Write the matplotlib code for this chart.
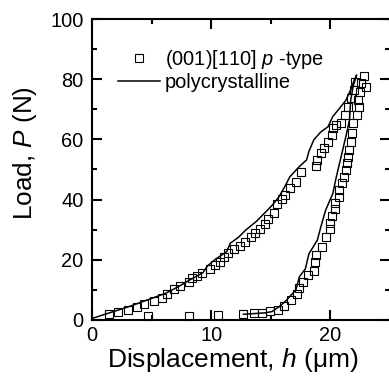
import matplotlib
matplotlib.use("Agg")
import matplotlib.pyplot as plt
from matplotlib.ticker import MultipleLocator

plt.rcParams["font.family"] = ["Liberation Sans", "DejaVu Sans"]
plt.rcParams["mathtext.fontset"] = "custom"
plt.rcParams["mathtext.rm"] = "Liberation Sans"
plt.rcParams["mathtext.it"] = "Liberation Sans:italic"

# polycrystalline: loading then unloading, one continuous trace
poly_h = [0.0, 1.8, 3.0, 4.6, 6.2, 7.3, 8.2, 9.3, 9.7, 10.4, 11.3, 11.6, 12.3,
          12.9, 13.8, 14.6, 15.2, 15.7, 16.2, 16.6, 17.4, 18.0, 18.2, 18.6,
          19.2, 19.8, 20.2, 20.8, 21.3, 21.7, 22.0, 22.2,
          21.9, 21.7, 21.6, 21.3, 20.9, 20.5, 20.2, 19.6, 19.2, 18.9, 18.2,
          17.9, 17.4, 17.1, 16.3, 15.7, 15.1, 14.6, 13.5, 12.7]
poly_P = [0.5, 2.8, 4.3, 6.6, 8.9, 11.2, 13.3, 15.7, 18.0, 20.3, 22.7, 25.5, 27.5,
          29.9, 32.8, 36.0, 38.5, 41.0, 44.5, 47.6, 51.0, 53.2, 56.0, 59.8,
          62.5, 64.2, 67.6, 70.5, 73.0, 76.5, 79.7, 81.4,
          77.5, 73.0, 66.4, 61.0, 54.3, 47.6, 42.0, 36.5, 31.0, 26.5, 22.0,
          17.0, 14.4, 10.0, 6.5, 4.4, 2.8, 2.4, 2.1, 1.9]

# (001)[110] p-type single crystal
ptype_h = [1.4, 2.2, 3.0, 3.8, 4.4, 5.2, 5.9, 6.3, 6.9, 7.4, 8.1, 8.4, 8.8, 9.2,
           9.9, 10.3, 10.7, 11.1, 11.4, 11.9, 12.4, 12.8, 13.3, 13.7, 14.1,
           14.5, 14.8, 15.3, 15.5, 15.9, 16.2, 16.6, 17.1, 17.5, 18.8, 18.9,
           19.2, 19.5, 19.8, 20.1, 20.2, 20.5, 20.9, 21.2, 21.5, 21.7, 22.0,
           22.1, 22.8, 22.6, 23.0, 22.5, 22.3, 22.4, 22.2,
           21.9, 21.8, 21.7, 21.6, 21.5, 21.4, 21.3, 21.1, 21.0, 20.75, 20.7,
           20.4, 20.4, 20.1, 20.0, 20.0, 19.6, 19.3, 18.8, 18.7, 18.6, 18.1,
           17.7, 17.4, 17.2, 16.7, 16.1, 15.6, 14.9, 14.3, 13.6, 12.7,
           4.7, 8.1, 10.6]
ptype_P = [2.0, 2.6, 3.4, 4.3, 5.3, 6.2, 7.4, 8.8, 10.2, 11.3, 12.7, 13.8, 14.6,
           15.5, 16.8, 18.3, 19.4, 20.8, 22.2, 23.5, 24.6, 26.0, 27.5, 28.8,
           30.1, 31.9, 33.4, 35.7, 38.5, 40.1, 41.5, 43.8, 46.0, 49.3, 51.0,
           53.2, 55.4, 57.0, 59.2, 61.5, 63.7, 64.8, 65.3, 68.1, 70.9, 73.6,
           76.4, 79.2, 81.1, 78.6, 77.3, 75.9, 73.0, 70.9, 68.1,
           65.3, 62.0, 59.2, 56.5, 54.3, 52.0, 49.8, 47.6, 45.4, 43.2, 41.0,
           39.0, 36.8, 34.6, 32.1, 30.1, 27.5, 24.4, 21.6, 19.4, 16.4, 15.0,
           12.7, 10.5, 8.6, 6.6, 4.7, 3.3, 3.0, 2.4, 2.2, 2.0,
           1.3, 1.3, 1.7]

fig = plt.figure(figsize=(3.89, 3.84), dpi=100)
ax = fig.add_axes([0.2365, 0.1667, 0.7661, 0.7838])

ax.plot(ptype_h, ptype_P, linestyle="none", marker="s", markersize=5.2,
        markerfacecolor="none", markeredgecolor="black", markeredgewidth=0.8,
        label=r"(001)[110] $\it{p}$ -type", clip_on=False, zorder=3)
ax.plot(poly_h, poly_P, color="black", linewidth=1.1,
        label="polycrystalline", zorder=2)

ax.set_xlim(0, 25)
ax.set_ylim(0, 100)
ax.xaxis.set_major_locator(MultipleLocator(10))
ax.xaxis.set_minor_locator(MultipleLocator(5))
ax.yaxis.set_major_locator(MultipleLocator(20))
ax.yaxis.set_minor_locator(MultipleLocator(10))
ax.tick_params(which="both", direction="in", top=True, right=True,
               width=1.5, labelsize=14.4)
ax.tick_params(which="major", length=7.5)
ax.tick_params(which="minor", length=3.8)
ax.tick_params(axis="y", pad=6)
ax.tick_params(axis="x", pad=4)
for s in ax.spines.values():
    s.set_linewidth(1.5)

ax.set_xlabel(r"Displacement, $\it{h}$ (μm)", fontsize=19, labelpad=1)
ax.xaxis.label.set_x(0.473)
ax.set_ylabel(r"Load, $\it{P}$ (N)", fontsize=18.8, labelpad=8)
ax.yaxis.label.set_y(0.555)

ax.legend(loc="upper left", bbox_to_anchor=(0.087, 0.905), frameon=False,
          fontsize=14.4, handlelength=2.1, handletextpad=0.25,
          labelspacing=0.12, borderpad=0, borderaxespad=0)

fig.savefig("out.png", dpi=100)
